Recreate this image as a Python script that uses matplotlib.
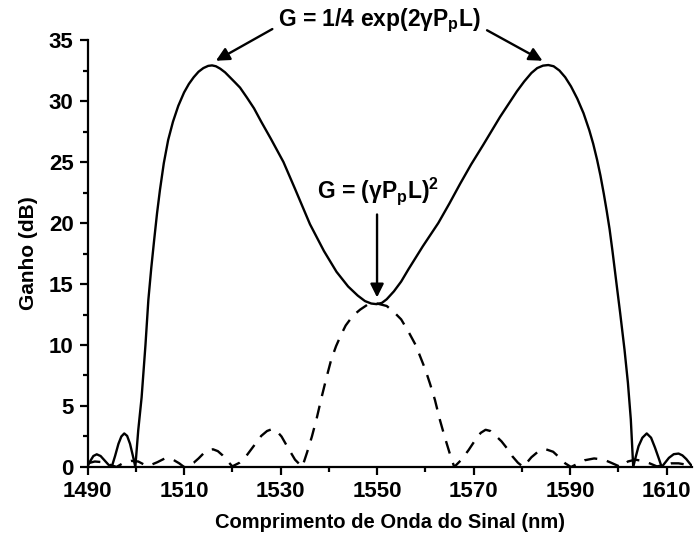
import matplotlib
matplotlib.use("Agg")
import matplotlib.pyplot as plt
from matplotlib.ticker import FixedLocator, MultipleLocator

plt.rcParams['font.family'] = ['Liberation Sans', 'DejaVu Sans']
plt.rcParams['font.weight'] = 'bold'
plt.rcParams['mathtext.fontset'] = 'custom'
plt.rcParams['mathtext.rm'] = 'Liberation Sans:bold'
plt.rcParams['mathtext.it'] = 'Liberation Sans:bold'
plt.rcParams['mathtext.bf'] = 'Liberation Sans:bold'

# gain of the parametric amplifier (solid), nm vs dB
opa_wl = [1490.0, 1490.5, 1491.2, 1491.9, 1492.7, 1493.5, 1494.3, 1495.0,
          1495.7, 1496.4, 1497.0, 1497.6, 1498.2, 1498.8, 1499.4, 1499.9,
          1500.5, 1501.2, 1502.0, 1502.6, 1503.2, 1503.8, 1504.4, 1505.0,
          1505.8, 1506.7, 1507.7, 1508.8, 1510.0, 1511.0, 1512.0, 1513.0,
          1514.0, 1515.0, 1515.8, 1516.6, 1517.5, 1518.5, 1519.5, 1520.5,
          1521.6, 1523.0, 1524.5, 1526.0, 1528.0, 1530.6, 1533.0, 1536.1,
          1539.0, 1541.6, 1544.0, 1546.0, 1547.5, 1548.8, 1549.9, 1551.0,
          1552.0, 1553.5, 1555.0, 1556.5, 1559.5, 1562.7, 1565.0, 1567.2,
          1569.5, 1572.0, 1575.5, 1577.5, 1579.0, 1580.5, 1582.0, 1583.2,
          1584.4, 1585.5, 1586.6, 1587.8, 1589.0, 1590.2, 1591.5, 1592.8,
          1594.0, 1594.8, 1595.6, 1596.3, 1597.0, 1597.6, 1598.2, 1598.8,
          1599.3, 1599.8, 1600.4, 1601.3, 1602.0, 1602.6, 1603.1, 1603.6,
          1604.2, 1605.0, 1605.9, 1606.8, 1607.6, 1608.4, 1609.0, 1609.7,
          1610.5, 1611.5, 1612.5, 1613.3, 1614.1, 1614.8, 1615.3]
opa_gain = [0.05, 0.45, 0.9, 1.04, 0.9, 0.55, 0.2, 0.0,
            0.9, 1.9, 2.5, 2.75, 2.55, 1.9, 0.9, 0.0,
            3.0, 5.7, 10.0, 13.7, 16.3, 18.6, 20.8, 22.7,
            24.9, 26.8, 28.3, 29.6, 30.7, 31.4, 31.95, 32.4,
            32.7, 32.88, 32.92, 32.85, 32.65, 32.35, 31.95, 31.55,
            31.1, 30.3, 29.4, 28.3, 26.9, 25.0, 22.8, 19.9,
            17.7, 16.0, 14.8, 14.05, 13.6, 13.4, 13.35, 13.45,
            13.75, 14.4, 15.2, 16.2, 18.1, 20.0, 21.6, 23.2,
            24.8, 26.4, 28.7, 29.9, 30.8, 31.6, 32.3, 32.7,
            32.9, 32.95, 32.85, 32.5, 31.95, 31.2, 30.2, 29.0,
            27.6, 26.5, 25.2, 23.9, 22.4, 21.0, 19.5, 17.7,
            16.1, 14.5, 12.6, 9.6, 6.9, 3.9, 0.0, 0.8,
            1.7, 2.4, 2.75, 2.4, 1.6, 0.7, 0.0, 0.35,
            0.75, 1.05, 1.1, 0.95, 0.65, 0.3, 0.05]

# quadratic-regime gain (dashed)
quad_wl = [1490.0, 1491.5, 1493.0, 1494.5, 1496.0, 1497.5, 1499.0, 1500.5,
           1502.2, 1503.0, 1504.5, 1506.0, 1507.5, 1509.0, 1510.0, 1511.0,
           1512.0, 1513.0, 1514.0, 1515.0, 1516.0, 1517.0, 1518.0, 1519.0,
           1520.0, 1521.5, 1522.7, 1524.4, 1526.0, 1527.2, 1528.2, 1529.2,
           1530.2, 1531.5, 1533.0, 1534.5, 1535.5, 1536.5, 1537.5, 1538.5,
           1539.5, 1540.5, 1541.5, 1542.5, 1543.5, 1545.0, 1546.5, 1548.0,
           1550.0, 1552.0, 1553.5, 1555.0, 1556.5, 1558.0, 1559.0, 1560.0,
           1561.0, 1562.0, 1563.0, 1564.0, 1565.0, 1566.0, 1567.5, 1569.0,
           1570.5, 1571.5, 1572.5, 1573.5, 1574.5, 1575.8, 1577.0, 1578.0,
           1579.2, 1580.3, 1582.0, 1583.5, 1585.0, 1586.5, 1588.0, 1589.0,
           1590.2, 1591.5, 1593.0, 1595.0, 1597.0, 1598.5, 1600.5, 1602.0,
           1603.5, 1605.0, 1606.5, 1608.0, 1609.5, 1611.0, 1612.5, 1614.0,
           1615.3]
quad_gain = [0.3, 0.45, 0.4, 0.2, 0.0, 0.35, 0.5, 0.45,
             0.1, 0.15, 0.4, 0.7, 0.65, 0.3, 0.0, 0.15,
             0.35, 0.7, 1.1, 1.38, 1.45, 1.3, 0.95, 0.5,
             0.05, 0.35, 0.8, 1.7, 2.55, 2.95, 3.1, 2.95,
             2.5, 1.6, 0.6, 0.0, 1.2, 2.5, 4.0, 5.7,
             7.3, 8.8, 9.9, 10.8, 11.6, 12.4, 12.9, 13.3,
             13.4, 13.2, 12.7, 12.1, 11.1, 10.0, 9.0, 8.0,
             6.8, 5.5, 3.9, 2.5, 1.2, 0.0, 0.6, 1.4,
             2.3, 2.8, 3.05, 2.95, 2.6, 2.1, 1.5, 0.9,
             0.35, 0.0, 0.8, 1.3, 1.45, 1.25, 0.7, 0.3,
             0.0, 0.25, 0.55, 0.7, 0.6, 0.35, 0.0, 0.45,
             0.6, 0.5, 0.3, 0.05, 0.15, 0.3, 0.3, 0.2,
             0.1]

x_ticks = [1490, 1510, 1530, 1550, 1570, 1590, 1610]

fig = plt.figure(figsize=(6.95, 5.46), dpi=100)
ax = fig.add_axes([0.126, 0.1447, 0.8698, 0.782])

ax.plot(opa_wl, opa_gain, color='black', lw=1.7)
ax.plot(quad_wl, quad_gain, color='black', lw=1.7, dashes=(5.5, 4.2))

ax.set_xlim(1490, 1615.3)
ax.set_ylim(0, 35)
ax.xaxis.set_major_locator(FixedLocator(x_ticks))
ax.xaxis.set_minor_locator(MultipleLocator(10))
ax.yaxis.set_major_locator(MultipleLocator(5))
ax.yaxis.set_minor_locator(MultipleLocator(2.5))

for side in ['top', 'right']:
    ax.spines[side].set_visible(False)
for side in ['left', 'bottom']:
    ax.spines[side].set_linewidth(1.6)
ax.tick_params(which='major', direction='out', length=6, width=1.6,
               labelsize=16, pad=4)
ax.tick_params(which='minor', direction='out', length=3.5, width=1.6)

ax.set_xlabel('Comprimento de Onda do Sinal (nm)', fontsize=14.5,
              fontweight='bold', labelpad=8)
ax.set_ylabel('Ganho (dB)', fontsize=15, fontweight='bold', labelpad=8)

arrow = dict(arrowstyle='-|>', color='black', lw=1.7,
             mutation_scale=20, shrinkA=0, shrinkB=0)

ax.text(1550.6, 36.6, r'G = 1/4 exp(2γP$_\mathrm{p}$L)',
        ha='center', va='center', fontsize=16.5, clip_on=False)
ax.annotate('', xy=(1516.6, 33.3), xytext=(1528.3, 35.9),
            arrowprops=arrow, annotation_clip=False)
ax.annotate('', xy=(1584.3, 33.3), xytext=(1572.8, 35.8),
            arrowprops=arrow, annotation_clip=False)

ax.text(1550.2, 22.6, r'G = (γP$_\mathrm{p}$L)$^\mathrm{2}$',
        ha='center', va='center', fontsize=16.5)
ax.annotate('', xy=(1550.0, 13.9), xytext=(1550.0, 20.7),
            arrowprops=arrow)

fig.savefig('out.png', dpi=100)
